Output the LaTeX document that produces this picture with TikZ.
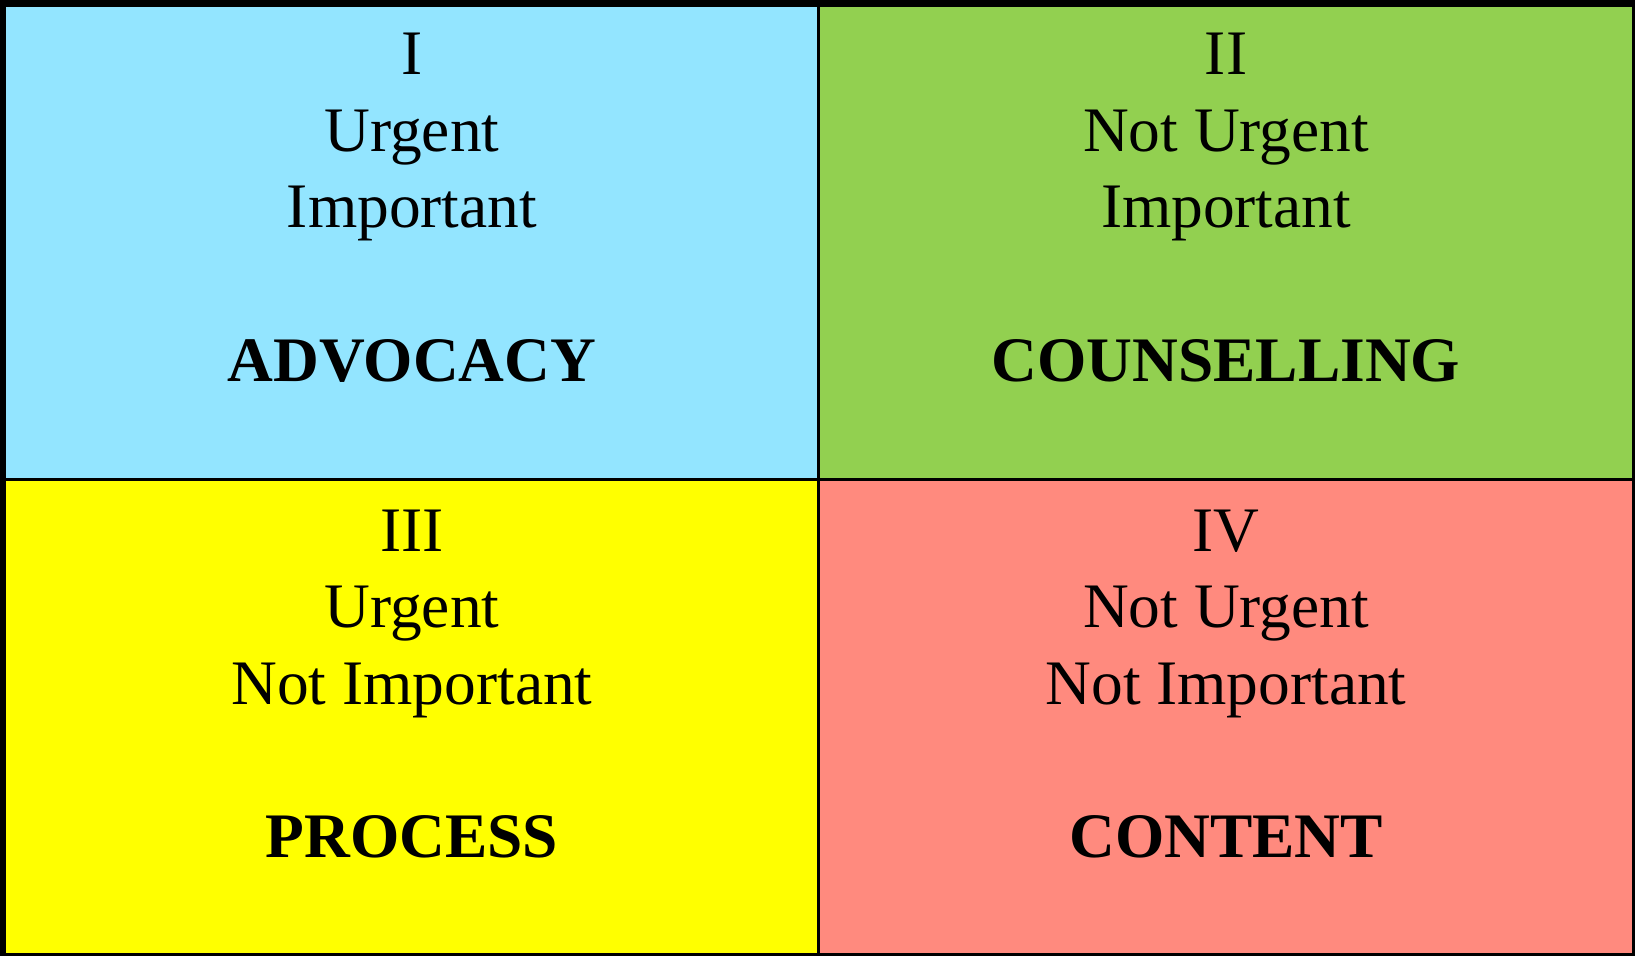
\documentclass[tikz,border=0pt]{standalone}
\usepackage{fontspec}
\setmainfont{Liberation Serif}
\definecolor{qblue}{RGB}{147,229,255}
\definecolor{qgreen}{RGB}{146,208,80}
\definecolor{qyellow}{RGB}{255,255,0}
\definecolor{qred}{RGB}{255,138,126}
\begin{document}
\begin{tikzpicture}[x=0.5pt,y=-0.5pt,
  txt/.style={anchor=base,inner sep=0pt,font=\fontsize{31.7}{36}\selectfont},
  bold/.style={txt,font=\fontsize{31.7}{36}\selectfont\bfseries}]
\useasboundingbox (0,0) rectangle (1635,956);
\fill[black] (0,0) rectangle (1635,956);
\fill[qblue] (6,7) rectangle (817,478);
\fill[qgreen] (820,7) rectangle (1632,478);
\fill[qyellow] (6,481) rectangle (817,953);
\fill[qred] (820,481) rectangle (1632,953);
% Quadrant I
\node[txt] (q1a) at (412,75) {I};
\node[txt] (q1b) at (412,152) {Urgent};
\node[txt] (q1c) at (412,228) {Important};
\node[bold] (q1d) at (412,382) {ADVOCACY};
% Quadrant II
\node[txt] (q2a) at (1226,75) {II};
\node[txt] (q2b) at (1226,152) {Not Urgent};
\node[txt] (q2c) at (1226,228) {Important};
\node[bold] (q2d) at (1226,382) {COUNSELLING};
% Quadrant III
\node[txt] (q3a) at (412,552) {III};
\node[txt] (q3b) at (412,628) {Urgent};
\node[txt] (q3c) at (412,705) {Not Important};
\node[bold] (q3d) at (412,858) {PROCESS};
% Quadrant IV
\node[txt] (q4a) at (1226,552) {IV};
\node[txt] (q4b) at (1226,628) {Not Urgent};
\node[txt] (q4c) at (1226,705) {Not Important};
\node[bold] (q4d) at (1226,858) {CONTENT};
\end{tikzpicture}
\end{document}
